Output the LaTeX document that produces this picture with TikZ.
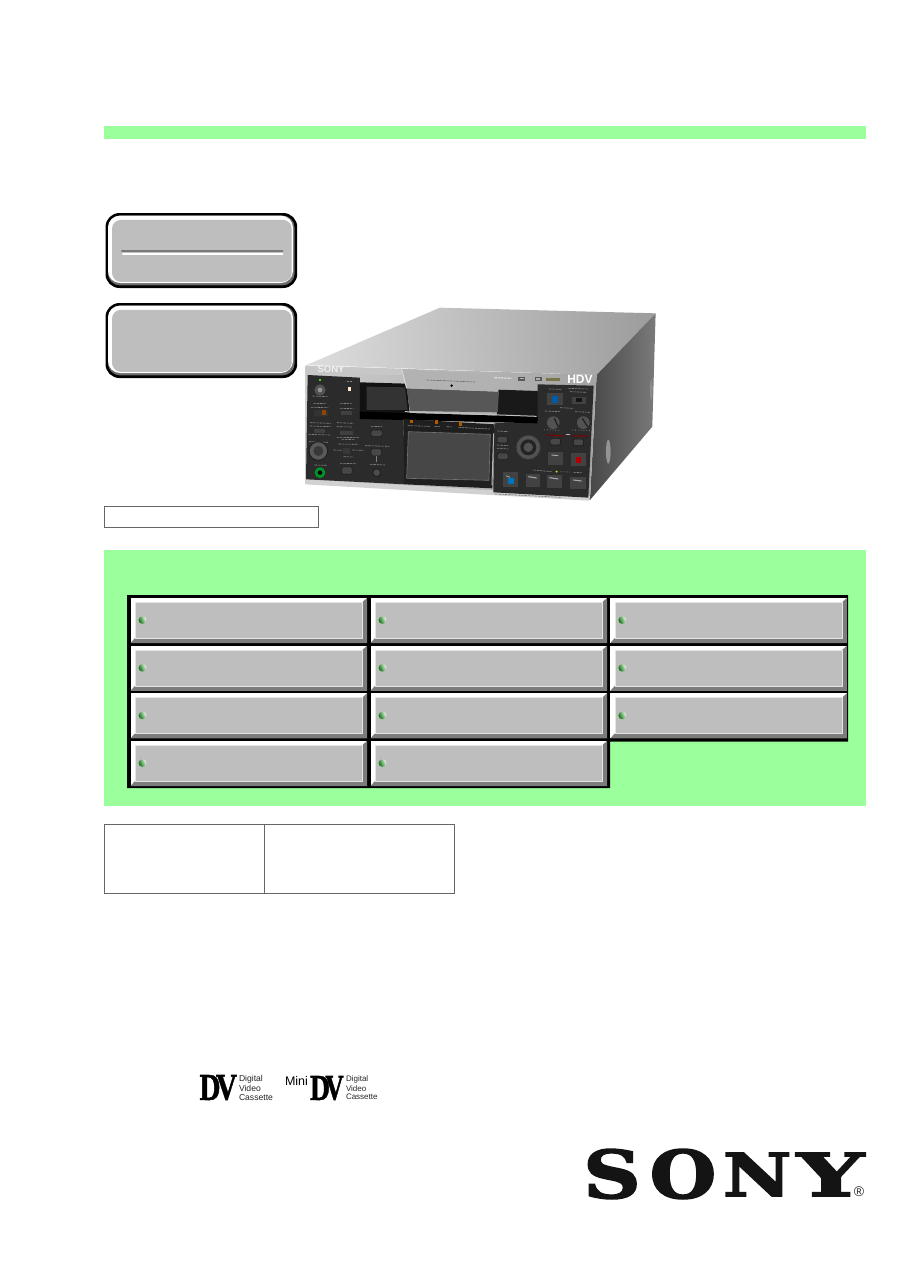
\documentclass[tikz,border=0pt]{standalone}
\usepackage{fontspec}
\setmainfont{Liberation Sans}
\newfontfamily\logofont[FakeBold=2.2]{DejaVu Serif Bold}
\newfontfamily\dvfont[FakeBold=1.5]{Liberation Serif Bold}
\definecolor{mint}{HTML}{9BFF9B}
\definecolor{panelgray}{HTML}{BEBEBE}
\definecolor{shadowgray}{HTML}{7C7C7C}
\definecolor{tablegray}{HTML}{666666}
\definecolor{devdark}{HTML}{2C2B2C}
\tikzset{
  greenband/.style={fill=mint,draw=none},
  tableline/.style={draw=tablegray,line width=0.9pt},
  tiny label/.style={draw=#1,line width=0.6pt,dash pattern=on 2.5pt off 0.8pt},
  tiny label/.default={black!48},
  softbtn/.style={fill=black!72,draw=black!88,line width=0.8pt,rounded corners=1.5pt},
  keypad/.style={fill=black!74},
  logotext/.style={inner sep=0pt,outer sep=0pt},
  dvtext/.style={inner sep=0pt,outer sep=0pt,anchor=west,text=black!85,font=\fontsize{8.6}{9}\selectfont},
}
\newcommand{\fitglyph}[7]{%
  \node[logotext,#7] (#1) at (#2,#3) {\resizebox*{#4pt}{#5pt}{#6}};}
\newcommand{\cellbox}[2]{%
  \fill[white] (#1,#2) rectangle ++(236.5,45);
  \fill[shadowgray] (#1+236.5,#2) -- ++(0,45) -- ++(-236.5,0) -- ++(4.5,-5) -- ++(227.5,0) -- ++(0,-36) -- cycle;
  \fill[panelgray,draw=black!10,line width=0.6pt] (#1+4.5,#2+4) rectangle ++(227.5,36);
  \shade[left color=green!45!black,right color=black!4,shading angle=115] (#1+12,#2+22) circle (3.9);
}
\newcommand{\roundpanel}[2]{%
  \fill[black] (105.5,#1) [rounded corners=14pt] rectangle (297.2,#2);
  \fill[black!58] (108,#1+2.6) [rounded corners=12pt] rectangle (294.6,#2-2.6);
  \fill[white] (108,#1+2.6) [rounded corners=12pt] rectangle (293,#2-5);
  \fill[panelgray] (112,#1+6.8) [rounded corners=9pt] rectangle (291.7,#2-6.2);
}
\begin{document}
\begin{tikzpicture}[x=1pt,y=-1pt]
\useasboundingbox (0,0) rectangle (909,1286);
\fill[white] (0,0) rectangle (909,1286);

% header band
\fill[greenband] (104,125.5) rectangle (866,138.5);

% rounded panels
\roundpanel{213}{288}
\roundpanel{303}{378}
\draw[black!52,line width=2pt,line cap=round] (122,250.8) -- (282.5,250.8);
\draw[white,line width=2pt,line cap=round] (123,253.6) -- (282.5,253.6);

% device
\begin{scope}[shift={(295,295)},x=0.3333pt,y=-0.3333pt]
  % top face
  \shade[left color=black!14,right color=black!38,shading angle=95]
     (35,210) -- (435,38) -- (1082,55) -- (905,240) -- cycle;
  % right face
  \shade[left color=black!72,right color=black!52]
     (905,240) -- (1082,55) -- (1072,395) -- (885,615) -- cycle;
  \fill[black!42] (940,470) ellipse (7 and 36);
  \fill[black!45] (1069,285) ellipse (4 and 30);
  % front silver
  \shade[left color=black!20,right color=black!36] (32,212) -- (905,240) -- (885,615) -- (30,565) -- cycle;
  \fill[black!22] (32,212) -- (320,222) -- (320,240) -- (35,238) -- cycle;
  % bottom strip
  \fill[black!18] (30,553) -- (885,603) -- (882,617) -- (30,568) -- cycle;
  % left dark panel
  \fill[devdark] (38,240) -- (195,248) -- (195,372) -- (325,372) -- (330,568) -- (33,553) -- cycle;
  % tape slot
  \fill[black!93] (195,262) -- (335,266) -- (345,365) -- (195,367) -- cycle;
  \fill[black!80] (215,275) -- (330,277) -- (338,345) -- (215,345) -- cycle;
  % right slot
  \fill[black!90] (608,284) -- (730,288) -- (730,378) -- (605,370) -- cycle;
  % right dark panel
  \fill[devdark] (728,268) -- (896,272) -- (880,608) -- (595,592) -- (598,385) -- (728,380) -- cycle;
  % flap
  \fill[black!66] (335,280) -- (612,290) -- (608,352) -- (345,348) -- cycle;
  \fill[black!30] (320,222) -- (617,240) -- (610,290) -- (335,280) -- cycle;
  \draw[black!15,line width=1pt] (320,222) -- (335,280);
  \fill[black] (470,272) circle (4);
  \draw[tiny label=black!60] (395,255) -- (540,261);
  % band below the slot
  \fill[black] (195,350) -- (728,365) -- (728,385) -- (325,375) -- (195,372) -- cycle;
  \draw[black!25,line width=1pt] (330,350) -- (725,364);
  % LCD frame
  \fill[black!88] (325,372) -- (598,388) -- (592,580) -- (328,568) -- cycle;
  \fill[black!72,draw=black!55,line width=0.6pt] (340,410) -- (586,418) -- (582,556) -- (335,550) -- cycle;
  \draw[black!30,line width=1pt] (596,415) -- (591,570);
  \fill[orange!70!black] (346,374) rectangle (355,385);
  \fill[orange!70!black] (421,375) rectangle (430,386);
  \fill[orange!70!black] (493,381) rectangle (502,392);
  \draw[tiny label] (338,392) -- (405,394);
  \draw[tiny label] (418,394) -- (435,395);
  \draw[tiny label] (455,395) -- (470,396);
  \draw[tiny label] (490,397) -- (585,402);

  % brand row
  \node[logotext,text=black!6,font=\bfseries\fontsize{9.5}{10}\selectfont] (devsony) at (108,223) {SONY};
  \node[logotext,text=white,font=\bfseries\fontsize{12}{12}\selectfont] (devhdv) at (855,252) {HDV};
  \draw[tiny label=black!12,line width=1.1pt] (598,248) -- (650,250);
  \draw[black!65,line width=1.1pt] (672,247) rectangle (688,255);
  \draw[black!65,line width=1.1pt] (722,248) rectangle (738,256);
  \fill[yellow!40!black] (752,249) rectangle (795,259);

  % left controls
  \fill[green!60!yellow] (75,255) circle (3.6);
  \fill[black!68] (75,285) circle (17);
  \fill[black!42] (75,285) circle (7);
  \fill[orange!18] (158,275) rectangle (169,288);
  \draw[tiny label] (52,303) -- (98,305);
  \draw[tiny label] (155,260) -- (172,260);
  \draw[tiny label] (55,325) -- (95,326);
  \draw[tiny label] (48,337) -- (100,338);
  \fill[black!80] (58,344) rectangle (98,362);
  \fill[orange!55!black] (80,346) rectangle (92,360);
  \draw[tiny label] (135,325) -- (170,326);
  \draw[tiny label] (135,340) -- (175,341);
  \fill[black!75] (138,348) rectangle (170,360);
  \draw[tiny label] (45,383) -- (108,385);
  \draw[tiny label] (45,393) -- (108,395);
  \fill[black!75] (58,402) rectangle (90,414);
  \draw[tiny label] (40,418) -- (105,420);
  \draw[tiny label] (125,383) -- (175,385);
  \draw[tiny label] (125,395) -- (170,396);
  \fill[black!75] (135,407) rectangle (175,419);
  \draw[tiny label] (125,427) -- (195,428);
  \draw[tiny label] (140,433) -- (180,434);
  \fill[softbtn] (228,405) rectangle (262,425);
  \draw[tiny label] (228,394) -- (262,395);
  \draw[tiny label] (42,440) -- (100,442);
  \fill[black!65,draw=black!88,line width=1pt] (70,468) circle (28);
  \fill[black!78] (70,468) circle (15);
  \draw[tiny label] (130,447) -- (190,448);
  \fill[black!78] (145,458) rectangle (165,478);
  \draw[tiny label] (115,465) -- (140,466);
  \draw[tiny label] (172,465) -- (205,466);
  \draw[tiny label] (145,485) -- (175,486);
  \draw[tiny label] (210,452) -- (283,454);
  \fill[softbtn] (228,461) rectangle (260,483);
  \draw[black!50,line width=1pt] (244,483) -- (244,500);
  \draw[tiny label] (225,508) -- (270,510);
  \fill[black!70,draw=black!88,line width=1pt] (245,533) circle (12);
  \draw[tiny label] (135,505) -- (182,506);
  \fill[softbtn] (140,515) rectangle (172,538);
  \draw[tiny label] (58,510) -- (95,511);
  \draw[green!50!black!85!cyan,line width=2.6pt] (75,533) circle (12);
  \fill[black] (75,533) circle (6);

  % centre-right controls
  \draw[tiny label] (608,408) -- (640,410);
  \fill[softbtn] (606,424) rectangle (638,444);
  \draw[tiny label] (606,450) -- (640,452);
  \draw[tiny label] (606,460) -- (640,462);
  \fill[softbtn] (607,474) rectangle (640,494);
  \fill[black!68,draw=black!80,line width=1pt] (700,457) circle (37);
  \fill[black!86] (700,457) circle (24);
  \fill[black!68] (700,457) circle (14);
  % upper right
  \draw[tiny label] (762,282) -- (800,283);
  \fill[keypad] (757,295) rectangle (803,330);
  \fill[blue!45!cyan!65!black] (771,303) rectangle (790,323);
  \draw[tiny label] (820,280) -- (880,282);
  \draw[tiny label] (825,290) -- (875,292);
  \fill[keypad] (830,305) rectangle (872,328);
  \fill[black!92] (842,310) rectangle (860,322);
  \draw[tiny label] (750,348) -- (795,350);
  \draw[tiny label] (795,338) -- (835,340);
  \draw[tiny label] (840,350) -- (885,352);
  \fill[black!68] (775,383) circle (19);
  \fill[black!68] (865,383) circle (19);
  \draw[black!88,line width=1.2pt] (778,370) -- (790,395);
  \draw[black!88,line width=1.2pt] (862,370) -- (878,395);
  \draw[black!50,line width=0.8pt,dotted] (748,404) -- (798,406);
  \draw[black!50,line width=0.8pt,dotted] (832,405) -- (885,407);
  \draw[red!50!black,line width=1pt] (755,420) -- (808,423);
  \draw[red!50!black,line width=1pt] (830,422) -- (880,424);
  \draw[black!30,line width=1pt] (812,420) -- (824,420);
  \fill[softbtn] (765,430) rectangle (797,450);
  \fill[softbtn] (835,432) rectangle (866,452);
  \fill[keypad] (760,470) rectangle (805,510);
  \draw[black!35,line width=1pt] (770,480) -- (790,482);
  \fill[keypad] (828,473) rectangle (872,513);
  \fill[red!70!black] (842,485) rectangle (858,505);
  \draw[tiny label] (715,525) -- (770,530);
  \draw[black!60,line width=0.8pt,densely dotted] (795,530) -- (825,531);
  \fill[yellow!80!green] (785,530) circle (3.2);
  \draw[tiny label] (835,532) -- (860,533);
  \fill[keypad] (625,532) rectangle (668,575);
  \fill[blue!40!cyan!75!black] (640,550) rectangle (656,567);
  \draw[black!35,line width=.8pt] (633,542) -- (645,547);
  \fill[keypad] (692,537) rectangle (735,575);
  \draw[black!35,line width=1.1pt] (700,545) -- (725,549);
  \fill[keypad] (757,540) rectangle (800,578);
  \draw[black!35,line width=1.1pt] (763,548) -- (790,552);
  \fill[keypad] (826,545) rectangle (872,583);
  \draw[black!35,line width=1.1pt] (835,555) -- (860,558);
  \draw[tiny label=black!55] (600,597) -- (800,607);
\end{scope}

% caption frame
\draw[tableline] (104.5,506.5) rectangle (318.5,527);

% green panel
\fill[greenband] (104,550) rectangle (866,806);
\fill[black] (127,595) -- (848,595) -- (848,741.5) -- (610,741.5) -- (610,788) -- (127,788) -- cycle;
\foreach \cy in {598,645.8,693.4}{
  \foreach \cx in {130.5,370.5,610.3}{
    \cellbox{\cx}{\cy}
  }
}
\foreach \cx in {130.5,370.5}{
  \cellbox{\cx}{741}
}

% lower table
\draw[tableline] (104.5,824.5) rectangle (454.5,893);
\draw[tableline] (264.5,824.5) -- (264.5,893);

% DV marks
\fitglyph{dva}{210}{1087.5}{21}{25}{\dvfont D}{}
\fitglyph{dvb}{226.5}{1087.5}{21}{25}{\dvfont V}{}
\node[dvtext] (dig1) at (239,1079) {Digital};
\node[dvtext] (vid1) at (239,1088.4) {Video};
\node[dvtext] (cas1) at (239,1097.6) {Cassette};
\node[logotext,anchor=west,font=\fontsize{12.5}{13}\selectfont] (mini) at (285,1081) {Mini};
\fitglyph{dvc}{320}{1088}{20}{24}{\dvfont D}{}
\fitglyph{dvd}{334.5}{1088}{18.5}{24}{\dvfont V}{}
\node[dvtext,font=\fontsize{8}{9}\selectfont] (dig2) at (346,1079.5) {Digital};
\node[dvtext,font=\fontsize{8}{9}\selectfont] (vid2) at (346,1088.4) {Video};
\node[dvtext,font=\fontsize{8}{9}\selectfont] (cas2) at (346,1097) {Cassette};

% SONY mark
\fitglyph{ls}{612}{1174}{57.5}{50}{\logofont S}{text=black!92}
\fitglyph{lo}{683}{1174}{66.5}{50}{\logofont O}{text=black!92}
\fitglyph{ln}{757.3}{1174.4}{68.7}{43.5}{\logofont N}{text=black!92}
\fitglyph{ly}{830.5}{1174.4}{67.5}{43.5}{\logofont Y}{text=black!92}
\node[logotext,text=black!85,font=\fontsize{14}{14}\selectfont] (reg) at (859,1191.5) {®};
\end{tikzpicture}
\end{document}
